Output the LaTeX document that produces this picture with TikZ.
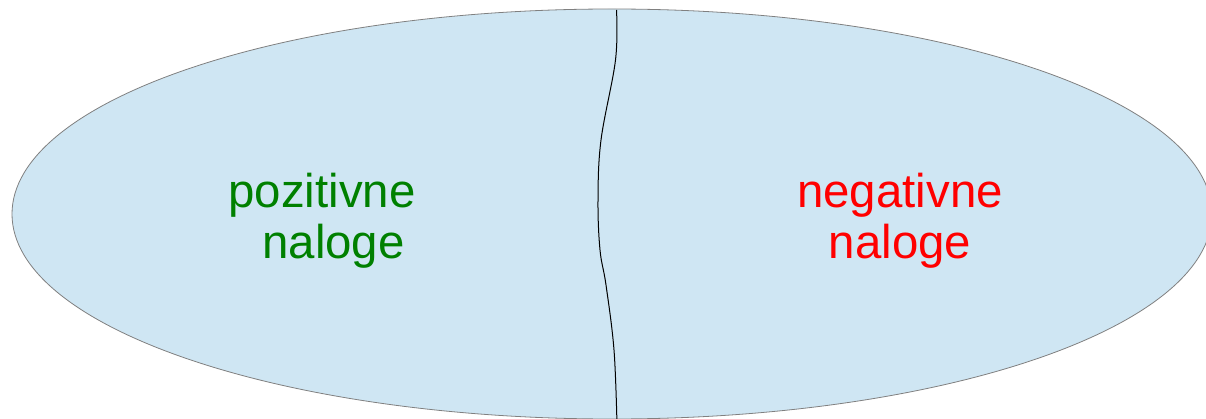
\documentclass[tikz,border=0pt]{standalone}
\usepackage{fontspec}
\setmainfont{Liberation Sans}
\definecolor{blobfill}{RGB}{207,230,243}
\definecolor{blobedge}{RGB}{128,128,128}
\definecolor{posgreen}{RGB}{0,128,0}
\definecolor{negred}{RGB}{255,0,0}
\tikzset{
  blob/.style={draw=blobedge, line width=0.8pt, fill=blobfill},
  divider/.style={draw=black, line width=1pt},
  label/.style={align=center, font=\fontsize{47.4}{51}\selectfont, inner sep=0pt}
}
\begin{document}
\begin{tikzpicture}[x=1pt,y=1pt]
\useasboundingbox (0,0) rectangle (1206,-419);
\clip (0,0) rectangle (1206,-419);
\fill[white] (0,0) rectangle (1206,-419);
\path[blob] (612,-214) ellipse [x radius=600, y radius=205];
\coordinate (top) at (616.5,-10);
\coordinate (bot) at (617,-425);
\draw[divider] plot[smooth, tension=0.6] coordinates {(top) (615.5,-60) (601,-140) (598,-200) (600,-250) (606,-285) (614,-350) (bot)};
\node[label, text=posgreen] (pos) at (322,-220.5) {pozitivne\\\hspace*{23pt}naloge};
\node[label, text=negred] (neg) at (900,-220.5) {negativne\\naloge};
\end{tikzpicture}
\end{document}
